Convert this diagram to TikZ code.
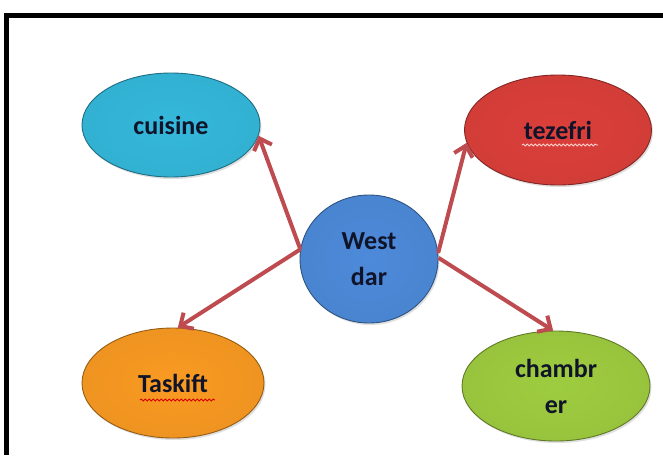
\documentclass[tikz,border=0pt]{standalone}
\usepackage{fontspec}
\setmainfont{Carlito}
\usetikzlibrary{shapes.geometric,arrows.meta,shadows,decorations.pathmorphing,calc}
\definecolor{cuis}{HTML}{34B8DB}
\definecolor{tez}{HTML}{DB3F3A}
\definecolor{wd}{HTML}{4D8AD9}
\definecolor{task}{HTML}{F99A22}
\definecolor{cham}{HTML}{9ECC3F}
\definecolor{arr}{HTML}{BE4B50}
\definecolor{txt}{HTML}{10142A}
\tikzset{
  bubble/.style={ellipse, draw=#1!60!black, line width=0.9pt,
    inner color=#1, outer color=#1!96!black,
    inner sep=0pt, text=txt, align=center,
    font=\bfseries\fontsize{26}{36}\selectfont,
    drop shadow={shadow xshift=1.5pt, shadow yshift=-2pt, opacity=0.25}},
  link/.style={draw=arr, line width=4pt, -{Straight Barb[length=10pt,width=19pt]}},
  squig/.style={decorate, decoration={snake, amplitude=0.9pt, segment length=4pt}, line width=0.9pt}
}
\begin{document}
\begin{tikzpicture}[x=1pt,y=-1pt]
\useasboundingbox (0,0) rectangle (663,455);
\fill[white] (0,0) rectangle (663,455);
\draw[line width=5pt] (6.5,455) -- (6.5,15.5) -- (663,15.5);

\node[bubble=cuis, minimum width=178pt, minimum height=104pt] (cu) at (171,125) {cuisine};
\node[bubble=tez, minimum width=187pt, minimum height=110pt] (te) at (558,130) {tezefri};
\node[bubble=wd, minimum width=138pt, minimum height=128pt] (wd) at (369,259) {West\\dar};
\node[bubble=task, minimum width=182pt, minimum height=110pt] (ta) at (173,383) {Taskift};
\node[bubble=cham, minimum width=188pt, minimum height=110pt] (ch) at (556,386) {chambr\\er};

\draw[squig, draw=pink!70!white] ($(te.center)+(-36,15)$) -- ($(te.center)+(40,15)$);
\draw[squig, draw=red!85!black] ($(ta.center)+(-33,17)$) -- ($(ta.center)+(42,17)$);

\draw[link] (wd.172) -- (cu.-7);
\draw[link] (wd.172) -- (ta.85);
\draw[link] (wd.5) -- (te.188);
\draw[link] (wd.1) -- (ch.93);
\end{tikzpicture}
\end{document}
